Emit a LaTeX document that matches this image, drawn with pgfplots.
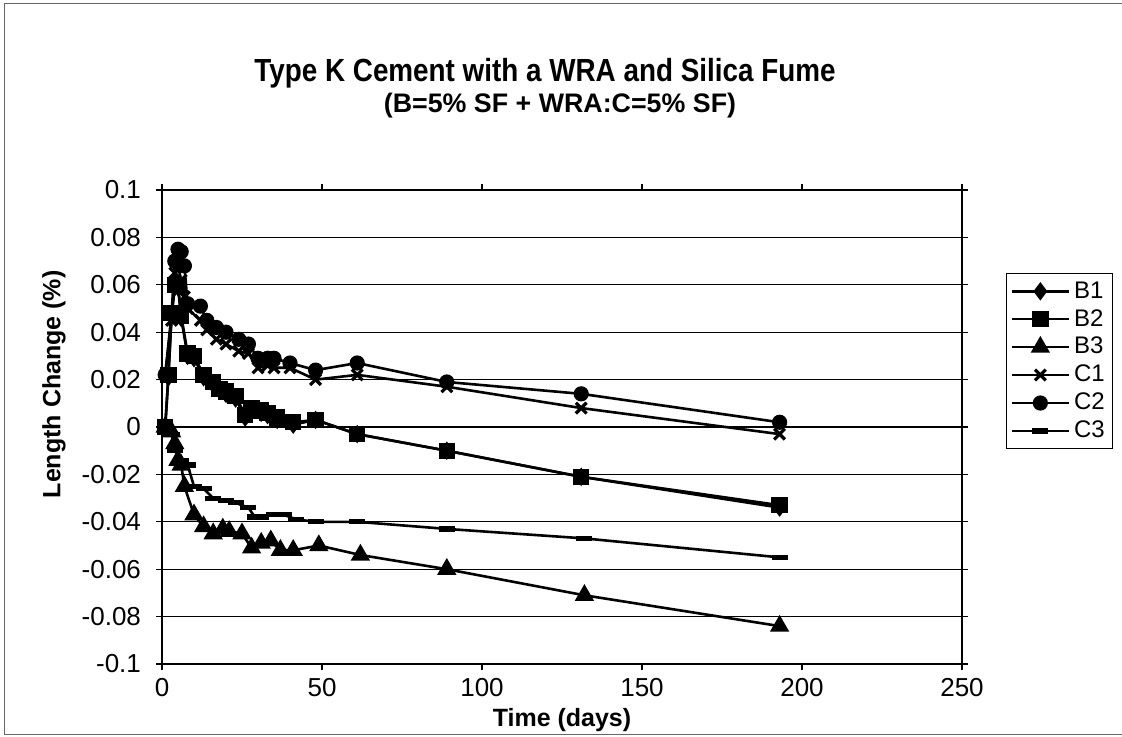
\documentclass[border=0pt]{standalone}
\usepackage{fontspec}
\setmainfont{Liberation Sans}
\usepackage{pgfplots}
\pgfplotsset{compat=1.18}

\begin{document}
\begin{tikzpicture}
\useasboundingbox (0,0) rectangle (561pt,368pt);
% outer chart frame (right side falls outside the picture)
\draw[black!60, line width=0.5pt] (561pt,366.5pt) -- (2pt,366.5pt) -- (2pt,1pt) -- (561pt,1pt);

\begin{axis}[
    at={(81pt,36pt)}, anchor=south west,
    width=400pt, height=237pt, scale only axis,
    xmin=0, xmax=250, ymin=-0.1, ymax=0.1,
    xtick={0,50,100,150,200,250},
    ytick={-0.1,-0.08,-0.06,-0.04,-0.02,0,0.02,0.04,0.06,0.08,0.1},
    scaled y ticks=false,
    yticklabel style={/pgf/number format/fixed, /pgf/number format/precision=2, xshift=-4pt},
    xticklabel style={yshift=-0.5pt},
    /pgf/number format/assume math mode=true,
    tick label style={font=\fontsize{13}{15}\selectfont},
    tick align=outside, major tick length=3pt,
    axis line style={line width=1.3pt},
    every tick/.style={black, line width=0.6pt},
    ymajorgrids, grid style={black, line width=0.6pt},
    xlabel={Time (days)}, ylabel={Length Change (\%)},
    label style={font=\bfseries\fontsize{12.5}{14}\selectfont},
    every axis x label/.append style={at={(axis description cs:0.5,-0.118)}, anchor=center},
    every axis y label/.append style={at={(axis description cs:-0.135,0.59)}, anchor=center},
    legend style={at={(axis description cs:1.055,0.825)}, anchor=north west,
        draw=black, line width=0.6pt, font=\fontsize{12}{14}\selectfont,
        row sep=0.1pt, inner xsep=2pt, inner ysep=2pt},
    legend cell align=left,
    legend image code/.code={\draw[mark repeat=2,mark phase=2] plot coordinates {(0cm,0cm)(0.5cm,0cm)(1cm,0cm)};},
    every axis plot/.append style={black, line width=1.3pt, mark options={solid, fill=black, line width=1pt}},
]
% B1
\addplot[mark=diamond*, mark size=3.8pt] coordinates {
 (1,0) (2,0.021) (3,0.047) (4,0.059) (5,0.059) (6,0.046) (8,0.030) (10,0.029)
 (13,0.021) (16,0.018) (18,0.016) (20,0.014) (23,0.012) (26,0.004) (28,0.007)
 (31,0.006) (33,0.005) (36,0.003) (41,0.001) (48,0.003) (61,-0.003) (89,-0.010)
 (131,-0.021) (193,-0.034)
};
% B2
\addplot[mark=square*, mark size=3.6pt] coordinates {
 (1,0) (2,0.022) (3,0.048) (4,0.060) (5,0.060) (6,0.047) (8,0.031) (10,0.030)
 (13,0.022) (16,0.019) (18,0.016) (20,0.015) (23,0.013) (26,0.005) (28,0.008)
 (31,0.007) (33,0.006) (36,0.004) (41,0.002) (48,0.003) (61,-0.003) (89,-0.010)
 (131,-0.021) (193,-0.033)
};
% B3
\addplot[mark=triangle*, mark size=4.6pt] coordinates {
 (1,0) (3,-0.002) (4,-0.007) (5,-0.014) (6,-0.016) (7,-0.025) (10,-0.037)
 (13,-0.042) (16,-0.045) (19,-0.043) (21,-0.044) (25,-0.045) (28,-0.051)
 (31,-0.049) (34,-0.048) (37,-0.052) (41,-0.052) (49,-0.050) (62,-0.054)
 (89,-0.060) (132,-0.071) (193,-0.084)
};
% C1
\addplot[mark=x, mark size=3.8pt, mark options={line width=1.6pt}] coordinates {
 (1,0.022) (3,0.045) (4,0.065) (5,0.068) (6,0.062) (7,0.055) (8,0.050)
 (12,0.045) (14,0.041) (17,0.037) (20,0.035) (24,0.032) (27,0.031) (30,0.025)
 (33,0.026) (35,0.025) (40,0.025) (48,0.020) (61,0.022) (89,0.017) (131,0.008)
 (193,-0.003)
};
% C2
\addplot[mark=*, mark size=3.3pt] coordinates {
 (1,0.022) (3,0.048) (4,0.070) (5,0.075) (6,0.074) (7,0.068) (8,0.052)
 (12,0.051) (14,0.045) (17,0.042) (20,0.040) (24,0.037) (27,0.035) (30,0.029)
 (33,0.029) (35,0.029) (40,0.027) (48,0.024) (61,0.027) (89,0.019) (131,0.014)
 (193,0.002)
};
% C3
\addplot[mark=-, mark size=4pt, mark options={line width=2.6pt}] coordinates {
 (1,0) (3,-0.003) (4,-0.010) (6,-0.014) (8,-0.016) (10,-0.025) (13,-0.026)
 (16,-0.030) (20,-0.031) (23,-0.032) (27,-0.034) (29,-0.038) (31,-0.038)
 (35,-0.037) (38,-0.037) (42,-0.039) (48,-0.040) (61,-0.040) (89,-0.043)
 (132,-0.047) (193,-0.055)
};
\legend{B1,B2,B3,C1,C2,C3}
\end{axis}

\node[font=\bfseries\fontsize{16}{19}\selectfont] at (272.5pt,331.5pt) {\scalebox{0.87}[1]{Type K Cement with a WRA and Silica Fume}};
\node[font=\bfseries\fontsize{13.4}{16}\selectfont] at (280pt,315pt) {(B=5\% SF + WRA:C=5\% SF)};
\end{tikzpicture}
\end{document}
